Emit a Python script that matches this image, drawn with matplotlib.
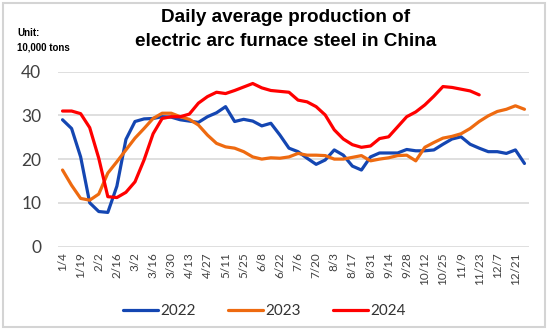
import matplotlib
matplotlib.use("Agg")
import matplotlib.pyplot as plt
from matplotlib.patches import Rectangle

# Weekly category axis (every second week is labelled)
week_labels = ["1/4", "1/19", "2/2", "2/16", "3/2", "3/16", "3/30", "4/13", "4/27",
               "5/11", "5/25", "6/8", "6/22", "7/6", "7/20", "8/3", "8/17", "8/31",
               "9/14", "9/28", "10/12", "10/25", "11/9", "11/23", "12/7", "12/21"]
n_weeks = 52

# Daily average production, 10,000 tons
prod_2022 = [29.0, 27.0, 20.5, 10.0, 8.0, 7.8, 13.8, 24.5, 28.6, 29.2, 29.3, 29.7, 29.6,
             29.0, 28.7, 28.4, 29.7, 30.6, 32.0, 28.6, 29.1, 28.7, 27.6, 28.2, 25.5, 22.5,
             21.7, 20.2, 18.8, 19.8, 22.1, 20.9, 18.4, 17.5, 20.5, 21.4, 21.4, 21.4, 22.2,
             21.9, 21.9, 22.1, 23.4, 24.6, 25.1, 23.4, 22.5, 21.7, 21.7, 21.3, 22.1, 19.0]
prod_2023 = [17.5, 14.0, 11.0, 10.6, 12.0, 16.8, 19.4, 22.1, 24.8, 27.0, 29.3, 30.5, 30.5,
             29.7, 29.1, 27.8, 25.5, 23.6, 22.8, 22.5, 21.7, 20.5, 20.0, 20.3, 20.2, 20.5,
             21.3, 20.9, 20.9, 20.8, 20.0, 20.0, 20.4, 20.8, 19.6, 20.0, 20.3, 20.8, 20.9,
             19.6, 22.7, 23.8, 24.8, 25.2, 25.8, 27.0, 28.6, 29.9, 30.9, 31.4, 32.2, 31.4]
prod_2024 = [31.0, 31.0, 30.4, 27.2, 20.2, 11.4, 11.2, 12.4, 14.8, 19.8, 25.8, 29.3, 29.7,
             29.7, 30.3, 32.8, 34.3, 35.3, 35.0, 35.7, 36.5, 37.3, 36.3, 35.7, 35.5, 35.3,
             33.5, 33.1, 32.0, 30.1, 26.7, 24.6, 23.3, 22.7, 23.0, 24.7, 25.1, 27.4, 29.7,
             30.8, 32.4, 34.4, 36.6, 36.4, 36.0, 35.6, 34.7]

series = [("2022", prod_2022, "#1446B2"),
          ("2023", prod_2023, "#EE6A10"),
          ("2024", prod_2024, "#FF0000")]

plt.rcParams["font.family"] = ["Lato", "DejaVu Sans"]
bold_family = ["Liberation Sans", "DejaVu Sans"]

fig = plt.figure(figsize=(5.5, 3.3), dpi=100)
fig.patch.set_facecolor("white")
fig.patches.append(Rectangle((3 / 550, 3 / 330), 542 / 550, 324 / 330,
                             transform=fig.transFigure, fill=False,
                             edgecolor="#D4D4D4", linewidth=1.5))

ax = fig.add_axes([58 / 550, 1 - 246.5 / 330, 471 / 550, 174.8 / 330])
for label, values, color in series:
    ax.plot(range(len(values)), values, color=color, linewidth=2.3,
            solid_capstyle="round", solid_joinstyle="round", label=label)

ax.set_xlim(-0.5, n_weeks - 0.5)
ax.set_ylim(0, 40)
ax.set_yticks([0, 10, 20, 30, 40])
ax.set_xticks(range(0, n_weeks, 2))
ax.set_xticklabels(week_labels, rotation=90, fontsize=8.5, color="#404040")
ax.tick_params(axis="y", length=0, pad=12, labelsize=12.5, labelcolor="#404040")
ax.tick_params(axis="x", length=0, pad=4)
ax.grid(axis="y", color="#D9D9D9", linewidth=1.2)
ax.set_axisbelow(True)
for s in ax.spines.values():
    s.set_visible(False)

fig.text(0.519, 1 - 17 / 330, "Daily average production of", ha="center", va="center",
         fontsize=13.6, fontweight="bold", family=bold_family)
fig.text(0.519, 1 - 42 / 330, "electric arc furnace steel in China", ha="center",
         va="center", fontsize=13.6, fontweight="bold", family=bold_family)
fig.text(17 / 550, 1 - 33 / 330, "Unit:", ha="left", va="center", fontsize=7,
         fontweight="bold", family=bold_family)
fig.text(17 / 550, 1 - 47 / 330, "10,000 tons", ha="left", va="center", fontsize=7,
         fontweight="bold", family=bold_family)

fig.legend(loc="center", bbox_to_anchor=(0.48, 1 - 311 / 330), ncol=3, frameon=False,
           fontsize=11, handlelength=2.3, handletextpad=0.15, columnspacing=2.1,
           labelcolor="#333333")

fig.savefig("out.png", dpi=100)
